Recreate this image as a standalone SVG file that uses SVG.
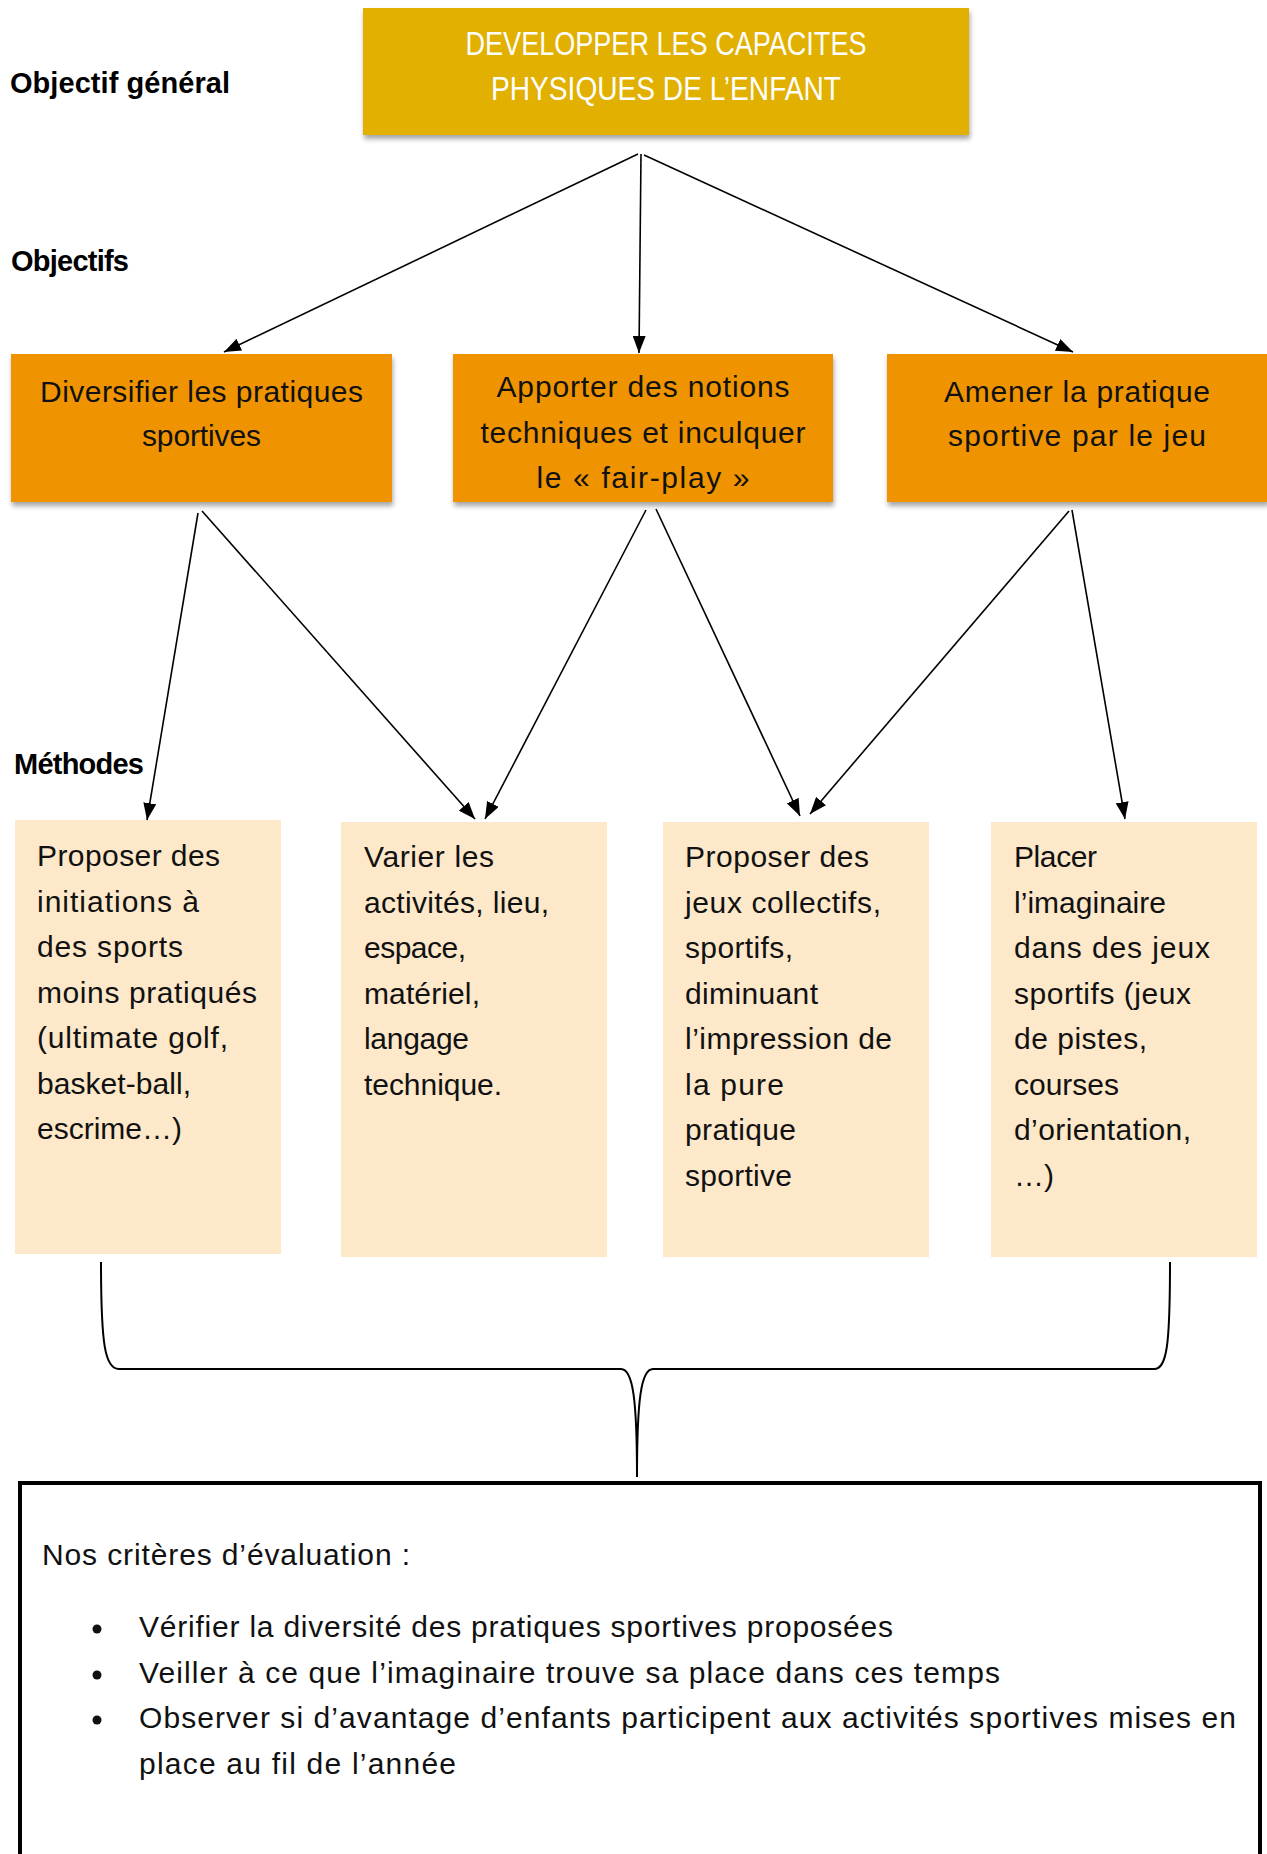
<svg xmlns="http://www.w3.org/2000/svg" width="1267" height="1854" viewBox="0 0 1267 1854">
<style>
text{font-family:"Liberation Sans",Arial,sans-serif;font-size:30px;fill:#111}
.lbl{font-weight:bold;font-size:29px;fill:#000}
.ttl{fill:#fff;font-size:33px}
.ctr{text-anchor:middle}
.top{fill:#E1B000}
.obj{fill:#EF9400}
.met{fill:#FDE8C9}
.con{stroke:#000;stroke-width:1.6;fill:none}
</style>
<defs>
<filter id="sh" x="-5%" y="-10%" width="110%" height="130%">
<feDropShadow dx="1" dy="4" stdDeviation="2.5" flood-color="#000" flood-opacity="0.35"/>
</filter>
<marker id="ah" markerUnits="userSpaceOnUse" markerWidth="17" markerHeight="13" refX="17" refY="6.5" orient="auto">
<path d="M0,0 L17,6.5 L0,13 z" fill="#000"/>
</marker>
</defs>

<g id="labels">
<text class="lbl" x="10" y="93" textLength="220">Objectif général</text>
<text class="lbl" x="11" y="271" textLength="118">Objectifs</text>
<text class="lbl" x="14" y="774" textLength="130">Méthodes</text>
</g>

<g id="node-general">
<rect class="top" x="363" y="8" width="606" height="127" filter="url(#sh)"/>
<text class="ttl ctr" x="666" y="55" textLength="401" lengthAdjust="spacingAndGlyphs">DEVELOPPER LES CAPACITES</text>
<text class="ttl ctr" x="666" y="100" textLength="350" lengthAdjust="spacingAndGlyphs">PHYSIQUES DE L’ENFANT</text>
</g>

<g id="node-obj1">
<rect class="obj" x="11" y="354" width="381" height="148" filter="url(#sh)"/>
<text class="ctr" x="201.5" y="402" textLength="323">Diversifier les pratiques</text>
<text class="ctr" x="201.5" y="446" textLength="119">sportives</text>
</g>

<g id="node-obj2">
<rect class="obj" x="453" y="354" width="380" height="148" filter="url(#sh)"/>
<text class="ctr" x="643" y="397" textLength="293">Apporter des notions</text>
<text class="ctr" x="643" y="443" textLength="325">techniques et inculquer</text>
<text class="ctr" x="643" y="488" textLength="213">le « fair-play »</text>
</g>

<g id="node-obj3">
<rect class="obj" x="887" y="354" width="381" height="148" filter="url(#sh)"/>
<text class="ctr" x="1077" y="402" textLength="266">Amener la pratique</text>
<text class="ctr" x="1077" y="446" textLength="258">sportive par le jeu</text>
</g>

<g id="node-met1">
<rect class="met" x="15" y="820" width="266" height="434"/>
<text x="37" y="866" textLength="183">Proposer des</text>
<text x="37" y="912" textLength="162">initiations à</text>
<text x="37" y="957" textLength="146">des sports</text>
<text x="37" y="1003" textLength="220">moins pratiqués</text>
<text x="37" y="1048" textLength="191">(ultimate golf,</text>
<text x="37" y="1094" textLength="154">basket-ball,</text>
<text x="37" y="1139">escrime…)</text>
</g>

<g id="node-met2">
<rect class="met" x="341" y="822" width="266" height="435"/>
<text x="364" y="867" textLength="130">Varier les</text>
<text x="364" y="913" textLength="185">activités, lieu,</text>
<text x="364" y="958" textLength="102">espace,</text>
<text x="364" y="1004" textLength="116">matériel,</text>
<text x="364" y="1049" textLength="105">langage</text>
<text x="364" y="1095" textLength="138">technique.</text>
</g>

<g id="node-met3">
<rect class="met" x="663" y="822" width="266" height="435"/>
<text x="685" y="867" textLength="184">Proposer des</text>
<text x="685" y="913" textLength="196">jeux collectifs,</text>
<text x="685" y="958" textLength="108">sportifs,</text>
<text x="685" y="1004" textLength="133">diminuant</text>
<text x="685" y="1049" textLength="207">l’impression de</text>
<text x="685" y="1095" textLength="99">la pure</text>
<text x="685" y="1140" textLength="111">pratique</text>
<text x="685" y="1186" textLength="107">sportive</text>
</g>

<g id="node-met4">
<rect class="met" x="991" y="822" width="266" height="435"/>
<text x="1014" y="867" textLength="83">Placer</text>
<text x="1014" y="913" textLength="152">l’imaginaire</text>
<text x="1014" y="958" textLength="196">dans des jeux</text>
<text x="1014" y="1004" textLength="177">sportifs (jeux</text>
<text x="1014" y="1049" textLength="133">de pistes,</text>
<text x="1014" y="1095" textLength="105">courses</text>
<text x="1014" y="1140" textLength="177">d’orientation,</text>
<text x="1014" y="1186">…)</text>
</g>

<g id="node-eval">
<rect x="20" y="1483" width="1240" height="400" fill="#fff" stroke="#000" stroke-width="4"/>
<text x="42" y="1565" textLength="368">Nos critères d’évaluation :</text>
<circle cx="97" cy="1629" r="4.5" fill="#111"/>
<circle cx="97" cy="1675" r="4.5" fill="#111"/>
<circle cx="97" cy="1720" r="4.5" fill="#111"/>
<text x="139" y="1637" textLength="754">Vérifier la diversité des pratiques sportives proposées</text>
<text x="139" y="1683" textLength="861">Veiller à ce que l’imaginaire trouve sa place dans ces temps</text>
<text x="139" y="1728" textLength="1097">Observer si d’avantage d’enfants participent aux activités sportives mises en</text>
<text x="139" y="1774" textLength="317">place au fil de l’année</text>
</g>

<g id="connectors" class="con">
<line x1="638" y1="154" x2="224" y2="352" marker-end="url(#ah)"/>
<line x1="641" y1="154" x2="639" y2="353" marker-end="url(#ah)"/>
<line x1="644" y1="155" x2="1073" y2="352" marker-end="url(#ah)"/>
<line x1="198" y1="513" x2="147" y2="820" marker-end="url(#ah)"/>
<line x1="202" y1="511" x2="475" y2="819" marker-end="url(#ah)"/>
<line x1="646" y1="510" x2="485" y2="819" marker-end="url(#ah)"/>
<line x1="656" y1="509" x2="800" y2="816" marker-end="url(#ah)"/>
<line x1="1069" y1="511" x2="810" y2="814" marker-end="url(#ah)"/>
<line x1="1072" y1="510" x2="1125" y2="819" marker-end="url(#ah)"/>
<path d="M101,1262 C101,1345 105,1369 119,1369 L621,1369 C633,1369 637,1400 637,1477 C637,1400 641,1369 653,1369 L1154,1369 C1167,1369 1170,1345 1170,1262" stroke-width="2"/>
</g>
</svg>
